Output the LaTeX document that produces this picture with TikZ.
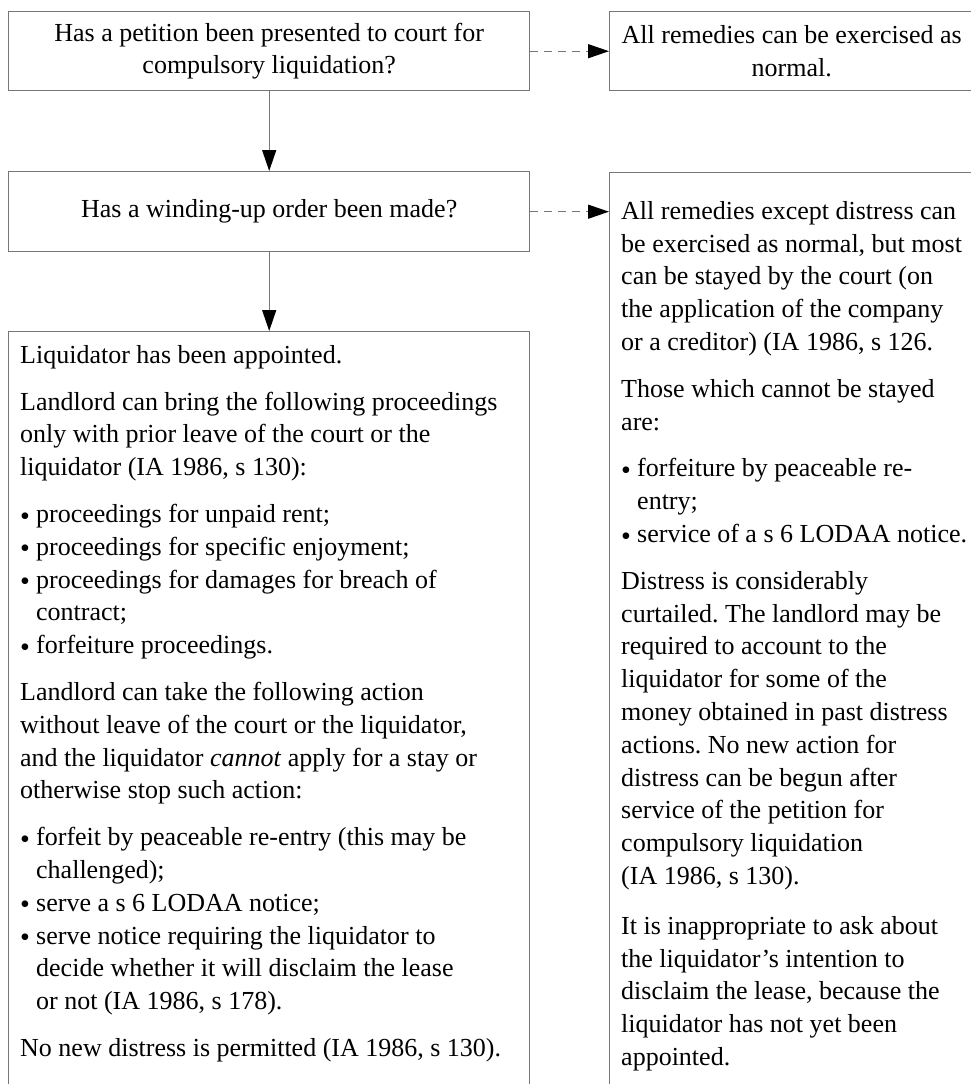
\documentclass[tikz,border=0pt]{standalone}
\usepackage{fontspec}
\setmainfont{Liberation Serif}
\usetikzlibrary{arrows.meta}
\definecolor{linegray}{RGB}{118,118,118}
\frenchspacing
% bullet and hanging indent for list lines
\newcommand{\bul}{\makebox[16pt][l]{\raisebox{-2.6pt}{\fontsize{28}{28}\selectfont •}}}
\newcommand{\ind}{\makebox[16pt]{}}
\begin{document}
\begin{tikzpicture}[x=1pt,y=-1pt,
  box/.style={draw=linegray, line width=1.4pt, rectangle, inner sep=0pt},
  boxtext/.style={font=\fontsize{26}{32.8}\selectfont, inner sep=0pt},
  conn/.style={draw=linegray, line width=1.3pt, -{Triangle[length=21pt,width=14pt,color=black]}},
  dconn/.style={conn, dash pattern=on 8pt off 6pt}]
\useasboundingbox (0,0) rectangle (971,1084);
\clip (0,0) rectangle (971,1084);

% question boxes on the left
\node[box, boxtext, align=center, minimum width=521pt, minimum height=79pt, anchor=north west] (q1) at (8,11)
  {Has a petition been presented to court for\\compulsory liquidation?};
\node[box, boxtext, align=center, minimum width=521pt, minimum height=80pt, anchor=north west] (q2) at (8,171)
  {Has a winding-up order been made?};
\node[box, minimum width=521pt, minimum height=780pt, anchor=north west] (a3) at (8,331) {};

% outcome boxes on the right
\node[box, boxtext, align=center, minimum width=364pt, minimum height=79pt, anchor=north west] (r1) at (609,11)
  {All remedies can be exercised as\\normal.};
\node[box, minimum width=364pt, minimum height=940pt, anchor=north west] (r2) at (609,172) {};

% text of the tall boxes
\node[boxtext, align=left, anchor=north west] (t3) at (20,345) {%
Liquidator has been appointed.\\[14pt]
Landlord can bring the following proceedings\\
only with prior leave of the court or the\\
liquidator (IA 1986, s 130):\\[14pt]
\bul proceedings for unpaid rent;\\
\bul proceedings for specific enjoyment;\\
\bul proceedings for damages for breach of\\
\ind contract;\\
\bul forfeiture proceedings.\\[14pt]
Landlord can take the following action\\
without leave of the court or the liquidator,\\
and the liquidator \textit{cannot} apply for a stay or\\
otherwise stop such action:\\[14pt]
\bul forfeit by peaceable re-entry (this may be\\
\ind challenged);\\
\bul serve a s 6 LODAA notice;\\
\bul serve notice requiring the liquidator to\\
\ind decide whether it will disclaim the lease\\
\ind or not (IA 1986, s 178).\\[14pt]
No new distress is permitted (IA 1986, s 130).};

\node[boxtext, align=left, anchor=north west] (tr2) at (621,201) {%
All remedies except distress can\\
be exercised as normal, but most\\
can be stayed by the court (on\\
the application of the company\\
or a creditor) (IA 1986, s 126.\\[14pt]
Those which cannot be stayed\\
are:\\[14pt]
\bul forfeiture by peaceable re-\\
\ind entry;\\
\bul service of a s 6 LODAA notice.\\[14pt]
Distress is considerably\\
curtailed. The landlord may be\\
required to account to the\\
liquidator for some of the\\
money obtained in past distress\\
actions. No new action for\\
distress can be begun after\\
service of the petition for\\
compulsory liquidation\\
(IA 1986, s 130).\\[17pt]
It is inappropriate to ask about\\
the liquidator’s intention to\\
disclaim the lease, because the\\
liquidator has not yet been\\
appointed.};

% connectors
\draw[conn] (q1) -- (q2);
\draw[conn] (q2) -- (q2 |- a3.north);
\draw[dconn] (q1.east) -- (r1.west);
\draw[dconn] (q2.east) -- (q2.east -| r2.west);
\end{tikzpicture}
\end{document}
